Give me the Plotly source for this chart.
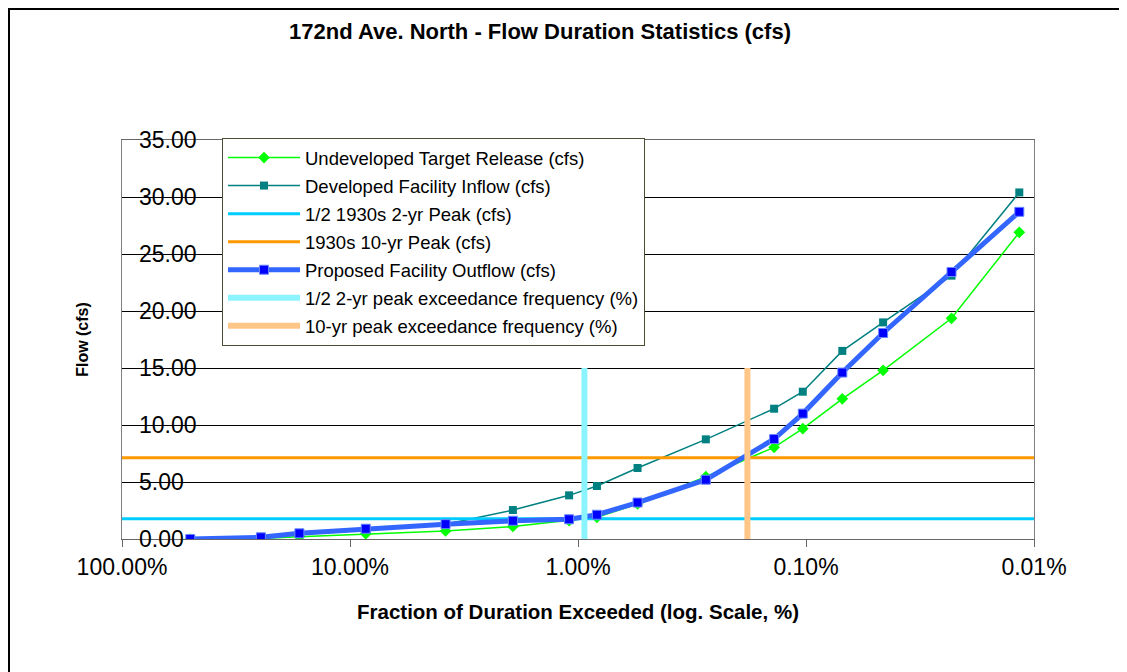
import plotly.graph_objects as go

# ---- data ----
exceed_frac = [0.502, 0.246, 0.1667, 0.0853, 0.0381, 0.0193, 0.01094, 0.00826,
               0.00548, 0.00275, 0.00138, 0.001033, 0.000693, 0.000459, 0.00023, 0.000116]
undeveloped = [0.0, 0.05, 0.2, 0.45, 0.7, 1.1, 1.6, 1.9,
               3.07, 5.47, 8.04, 9.68, 12.3, 14.8, 19.36, 26.9]
developed = [0.0, 0.15, 0.44, 0.93, 1.3, 2.54, 3.83, 4.65,
             6.23, 8.74, 11.43, 12.92, 16.5, 19.0, 23.1, 30.4]
proposed = [0.0, 0.15, 0.5, 0.9, 1.3, 1.6, 1.73, 2.13,
            3.2, 5.2, 8.77, 11.0, 14.6, 18.07, 23.42, 28.7]

half_2yr_peak = 1.78       # cfs
peak_10yr = 7.13           # cfs
x_span = [1.0, 0.0001]     # full x range of horizontal reference lines
half_2yr_freq = 0.00937    # fraction exceeded
freq_10yr = 0.001807       # fraction exceeded
vbar_y = [0, 15]

x_tickvals = [1, 0.1, 0.01, 0.001, 0.0001]
x_ticktext = ["100.00%", "10.00%", "1.00%", "0.10%", "0.01%"]
y_tickvals = [0, 5, 10, 15, 20, 25, 30, 35]

FONT = "Liberation Sans, Arial, sans-serif"

fig = go.Figure()

fig.add_trace(go.Scatter(
    x=exceed_frac, y=undeveloped, mode="lines+markers",
    name="Undeveloped Target Release (cfs)",
    line=dict(color="#00FF00", width=1.5),
    marker=dict(symbol="diamond", size=9, color="#00FF00"),
    legendgroup="a"))
fig.add_trace(go.Scatter(
    x=exceed_frac, y=developed, mode="lines+markers",
    name="Developed Facility Inflow (cfs)",
    line=dict(color="#008080", width=1.5),
    marker=dict(symbol="square", size=8, color="#008080"),
    legendgroup="b"))
fig.add_trace(go.Scatter(
    x=x_span, y=[half_2yr_peak] * 2, mode="lines",
    name="1/2 1930s 2-yr Peak (cfs)",
    line=dict(color="#00CCFF", width=3),
    legendgroup="c"))
fig.add_trace(go.Scatter(
    x=x_span, y=[peak_10yr] * 2, mode="lines",
    name="1930s 10-yr Peak (cfs)",
    line=dict(color="#FF9900", width=3),
    legendgroup="d"))
fig.add_trace(go.Scatter(
    x=exceed_frac, y=proposed, mode="lines+markers",
    name="Proposed Facility Outflow (cfs)",
    line=dict(color="#3366FF", width=5),
    marker=dict(symbol="square", size=9, color="#0000FF",
                line=dict(color="#6688FF", width=1)),
    legendgroup="e"))
fig.add_trace(go.Scatter(
    x=[half_2yr_freq] * 2, y=vbar_y, mode="lines", yaxis="y2",
    name="1/2 2-yr peak exceedance frequency (%)",
    line=dict(color="#8CF4FF", width=6),
    legendgroup="f"))
fig.add_trace(go.Scatter(
    x=[freq_10yr] * 2, y=vbar_y, mode="lines", yaxis="y2",
    name="10-yr peak exceedance frequency (%)",
    line=dict(color="#FFC688", width=6),
    legendgroup="g"))

# page body has an 8px margin: figure coordinates = screen - 8
OFF = 8
W, H = 1127 - OFF, 672 - OFF
L, R, T, B = 122 - OFF, 1034 - OFF, 140 - OFF, 539 - OFF

def px_x(sx):
    return (sx - OFF - L) / (R - L)

def px_y(sy):
    return (B - (sy - OFF)) / (B - T)

fig.update_layout(
    width=W, height=H,
    margin=dict(l=L, r=W - R, t=T, b=H - B, pad=0),
    paper_bgcolor="white", plot_bgcolor="white",
    font=dict(family=FONT, color="black"),
    title=dict(text="<b>172nd Ave. North - Flow Duration Statistics (cfs)</b>",
               x=(540 - OFF) / W, xref="container", xanchor="center",
               y=1 - (31 - OFF) / H, yref="container", yanchor="middle",
               font=dict(size=22, family=FONT, color="black")),
    showlegend=True,
    legend=dict(x=px_x(222), y=px_y(138), xanchor="left", yanchor="top",
                bgcolor="white", bordercolor="#4D4D33", borderwidth=1,
                font=dict(size=18.5, family=FONT, color="black"),
                tracegroupgap=1, itemwidth=72),
    shapes=[
        dict(type="line", xref="paper", yref="paper",
             x0=px_x(8), x1=px_x(1140), y0=px_y(8), y1=px_y(8),
             line=dict(color="black", width=4)),
        dict(type="line", xref="paper", yref="paper",
             x0=px_x(8), x1=px_x(8), y0=px_y(8), y1=px_y(690),
             line=dict(color="black", width=4)),
    ],
    xaxis=dict(
        type="log", range=[0, -4],
        tickvals=x_tickvals, ticktext=x_ticktext,
        tickfont=dict(size=23, family=FONT, color="black"),
        ticks="outside", ticklen=7, tickcolor="#666666",
        showgrid=False, zeroline=False,
        showline=True, linecolor="#666666", linewidth=1, mirror=True,
        title=dict(text="<b>Fraction of Duration Exceeded (log. Scale, %)</b>",
                   font=dict(size=20.5, family=FONT, color="black"), standoff=26),
    ),
    yaxis=dict(
        range=[0, 35], tickvals=y_tickvals, showticklabels=False, ticks="",
        showgrid=True, gridcolor="black", gridwidth=1, zeroline=False,
        showline=True, linecolor="#808080", linewidth=1, mirror=True,
        title=dict(text="<b>Flow (cfs)</b>",
                   font=dict(size=16, family=FONT, color="black"), standoff=28),
    ),
    yaxis2=dict(
        overlaying="y", anchor="free", side="right", position=px_x(138),
        range=[0, 35], tickvals=y_tickvals, tickformat=".2f",
        tickfont=dict(size=23, family=FONT, color="black"),
        ticks="", showgrid=False, zeroline=False, showline=False,
    ),
)

fig.write_html("out.html")
